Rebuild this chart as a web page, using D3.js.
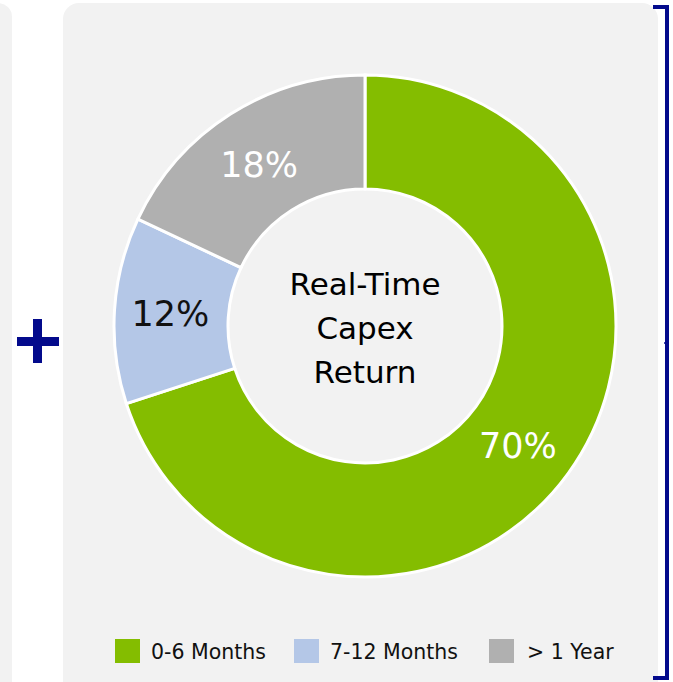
<!DOCTYPE html>
<html>
<head>
<meta charset="utf-8">
<script src="https://cdn.jsdelivr.net/npm/d3@7"></script>
<style>
  body { margin: 0; background: #ffffff; }
  svg { display: block; }
</style>
</head>
<body>
<div id="container"></div>
<script>
// data
const categories = ["0-6 Months", "7-12 Months", "> 1 Year"];
const values = [70, 12, 18];
const colors = ["#84bd00", "#b4c7e7", "#b0b0b0"];
const centerLines = ["Real-Time", "Capex", "Return"];

const width = 673;
const height = 682;
const font = "DejaVu Sans, Verdana, sans-serif";

const svg = d3
  .select("#container")
  .append("svg")
  .attr("width", width)
  .attr("height", height);

// panels
svg.append("rect")
  .attr("x", -40).attr("y", 3)
  .attr("width", 52).attr("height", 720)
  .attr("rx", 14)
  .attr("fill", "#f2f2f2");

svg.append("rect")
  .attr("x", 63).attr("y", 3)
  .attr("width", 595).attr("height", 720)
  .attr("rx", 16)
  .attr("fill", "#f2f2f2");

// plus sign
const plus = svg.append("g").attr("fill", "#030a8c");
plus.append("rect").attr("x", 17).attr("y", 337).attr("width", 42).attr("height", 9);
plus.append("rect").attr("x", 33).attr("y", 319).attr("width", 9).attr("height", 44);

// bracket on the right
svg.append("path")
  .attr("d", "M653,7 H667 V678 H653")
  .attr("fill", "none")
  .attr("stroke", "#030a8c")
  .attr("stroke-width", 4);
svg.append("line")
  .attr("x1", 664).attr("x2", 667)
  .attr("y1", 343).attr("y2", 343)
  .attr("stroke", "#030a8c")
  .attr("stroke-width", 1.5);

// donut
const cx = 365, cy = 326;
const outerR = 251, innerR = 137;

const pie = d3.pie().sort(null).value((d) => d);
const arc = d3.arc().innerRadius(innerR).outerRadius(outerR);
const labelArc = d3.arc().innerRadius(194).outerRadius(194);
// small nudges so labels sit like the original
const labelNudge = [[-4, 5], [-1, 0], [-2, 2]];

const donut = svg.append("g").attr("transform", `translate(${cx},${cy})`);
const arcs = pie(values);

donut.selectAll(".slice")
  .data(arcs)
  .enter()
  .append("path")
  .attr("class", "slice")
  .attr("d", arc)
  .attr("fill", (d, i) => colors[i])
  .attr("stroke", "#ffffff")
  .attr("stroke-width", 3);

donut.selectAll(".pct")
  .data(arcs)
  .enter()
  .append("text")
  .attr("class", "pct")
  .attr("transform", (d, i) => {
    const [x, y] = labelArc.centroid(d);
    return `translate(${x + labelNudge[i][0]},${y + labelNudge[i][1]})`;
  })
  .attr("text-anchor", "middle")
  .attr("dy", "0.36em")
  .attr("font-family", font)
  .attr("font-size", 35)
  .attr("fill", (d, i) => (i === 1 ? "#111111" : "#ffffff"))
  .text((d) => d.data + "%");

donut.append("text")
  .attr("text-anchor", "middle")
  .attr("font-family", font)
  .attr("font-size", 31)
  .attr("fill", "#000000")
  .selectAll("tspan")
  .data(centerLines)
  .enter()
  .append("tspan")
  .attr("x", 0)
  .attr("y", (d, i) => -31 + i * 44)
  .text((d) => d);

// legend
const legendX = [115, 294, 489];
const legend = svg.append("g").attr("transform", "translate(0,639)");
const items = legend.selectAll(".item")
  .data(categories)
  .enter()
  .append("g")
  .attr("class", "item")
  .attr("transform", (d, i) => `translate(${legendX[i]},0)`);

items.append("rect")
  .attr("width", 25)
  .attr("height", 24)
  .attr("fill", (d, i) => colors[i]);

items.append("text")
  .attr("x", (d, i) => (i === 2 ? 38 : 36))
  .attr("y", 20)
  .attr("font-family", font)
  .attr("font-size", 20.5)
  .attr("fill", "#111111")
  .text((d) => d);
</script>
</body>
</html>
